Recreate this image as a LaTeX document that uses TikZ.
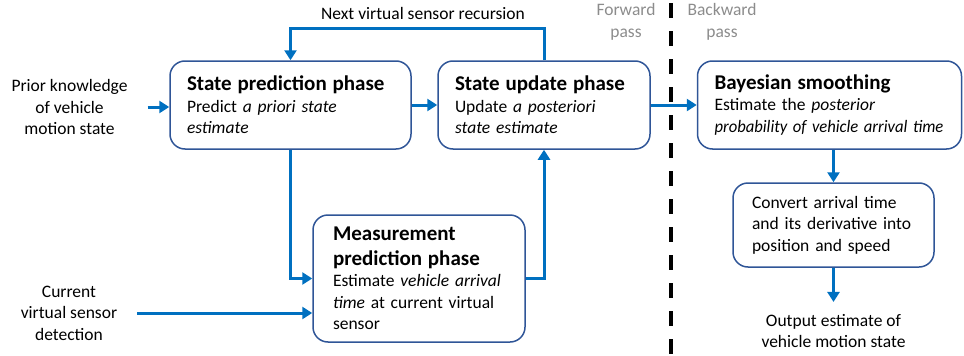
\documentclass[tikz,border=0pt]{standalone}
\usepackage{fontspec}
\usepackage{graphicx}
\setmainfont{Carlito}
\usetikzlibrary{arrows.meta}
\definecolor{cblue}{HTML}{0070C0}
\definecolor{bborder}{HTML}{2F5597}
\definecolor{gtext}{HTML}{8C8C8C}
\newcommand{\ttl}{\fontsize{21}{25}\selectfont\bfseries}
\tikzset{
  box/.style={draw=bborder, line width=1.5pt, rounded corners=15pt, align=left,
    font=\fontsize{17.5}{21.5}\selectfont, inner ysep=0pt},
  conn/.style={draw=cblue, line width=3pt, -{Triangle[length=10pt,width=12pt]}},
  plain/.style={align=center, inner sep=0pt, font=\fontsize{17.5}{21.5}\selectfont},
}
\begin{document}
\begin{tikzpicture}[x=1pt,y=-1pt]
\useasboundingbox (0,0) rectangle (964,356);
% boxes
\node[box, text width=207pt, inner xsep=17pt, minimum height=88pt] (sp) at (290.5,105)
  {{\ttl State prediction phase}\\Predict \textit{a priori state}\\\textit{estimate}};
\node[box, text width=178pt, inner xsep=17pt, minimum height=88pt] (su) at (544,105)
  {{\ttl State update phase}\\Update \textit{a posteriori}\\\textit{state estimate}};
\node[box, text width=230pt, inner xsep=17pt, minimum height=88pt] (bs) at (829.5,105)
  {{\ttl Bayesian smoothing}\\Estimate the \textit{posterior}\\\scalebox{0.95}[1]{\textit{probability of vehicle arrival time}}};
\node[box, text width=172pt, inner xsep=20pt, minimum height=127pt] (mp) at (419,278.5)
  {{\ttl Measurement}\\[3.5pt]{\ttl prediction phase}\\Estimate \textit{vehicle arrival}\\\textit{time} at current virtual\\sensor};
\node[box, text width=163pt, inner xsep=19pt, minimum height=84pt] (cv) at (833.5,225)
  {Convert arrival time\\and its derivative into\\position and speed};
% plain texts
\node[plain] (prior) at (69.5,107) {Prior knowledge\\of vehicle\\motion state};
\node[plain] (cur) at (69,313) {Current\\virtual sensor\\detection};
\node[plain] (out) at (833.5,331) {Output estimate of\\vehicle motion state};
\node[plain] (next) at (423,13) {Next virtual sensor recursion};
\node[plain, text=gtext] (fwd) at (626,22) {Forward\\pass};
\node[plain, text=gtext] (bwd) at (722,22) {Backward\\pass};
% dashed separator
\coordinate (dtop) at (671,3);
\coordinate (dbot) at (671,356);
\draw[line width=4pt, dash pattern=on 14.5pt off 13.5pt] (dtop) -- (dbot);
% connectors
\coordinate (loop) at (0,28);
\draw[conn, shorten <=20pt] (prior.east) -- (sp.west |- prior.east);
\draw[conn] (sp.east) -- (su.west);
\draw[conn] (su.east) -- (bs.west);
\draw[conn] (su.north) -- (su.north |- loop) -| (sp.north);
\draw[conn] (sp.south) |- (mp.west);
\draw[conn, shorten <=20pt] (cur.east) -- (mp.west |- cur.east);
\draw[conn] (mp.east) -| (su.south);
\draw[conn] (cv.north |- bs.south) -- (cv.north);
\draw[conn, shorten >=12pt] (cv.south) -- (out.north);
\end{tikzpicture}
\end{document}
